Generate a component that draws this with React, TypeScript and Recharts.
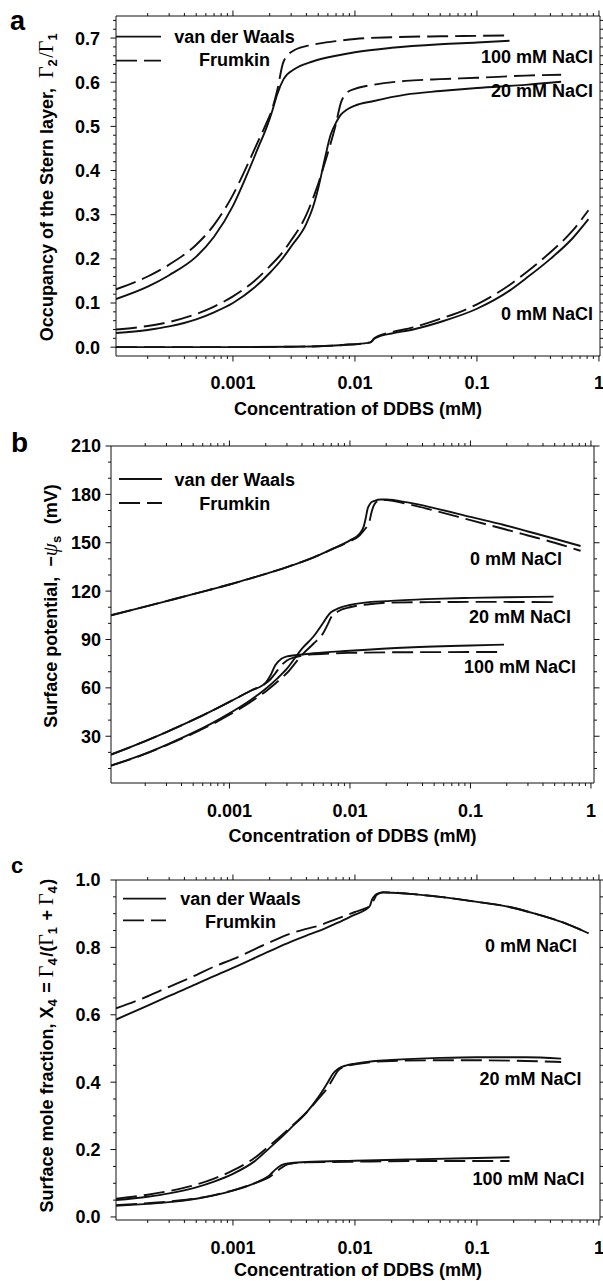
import React from 'react';
import { LineChart, Line, XAxis, YAxis, Legend } from 'recharts';

const FONT = "'Liberation Sans', Arial, Helvetica, sans-serif";
const SERIF = "'Liberation Serif', 'Times New Roman', serif";
const INK = '#111';

// ---------- shared x-axis ticks ----------
const X_MAJOR = [0.001, 0.01, 0.1, 1];
const X_MAJOR_LABELS = ['0.001', '0.01', '0.1', '1'];
const X_MINOR = [
  0.0002, 0.0003, 0.0004, 0.0005, 0.0006, 0.0007, 0.0008, 0.0009,
  0.002, 0.003, 0.004, 0.005, 0.006, 0.007, 0.008, 0.009,
  0.02, 0.03, 0.04, 0.05, 0.06, 0.07, 0.08, 0.09,
  0.2, 0.3, 0.4, 0.5, 0.6, 0.7, 0.8, 0.9,
];
const SERIES_NAMES = ['van der Waals', 'Frumkin'];
const SALT_LABELS = ['0 mM NaCl', '20 mM NaCl', '100 mM NaCl'];
const X_TITLE = 'Concentration of DDBS (mM)';

// ---------- panel a : occupancy of the Stern layer ----------
const A_Y_MAJOR = [0, 0.1, 0.2, 0.3, 0.4, 0.5, 0.6, 0.7];
const A_Y_LABELS = ['0.0', '0.1', '0.2', '0.3', '0.4', '0.5', '0.6', '0.7'];
const A_Y_MINOR = [0.02, 0.04, 0.06, 0.08, 0.12, 0.14, 0.16, 0.18, 0.22, 0.24, 0.26, 0.28, 0.32, 0.34, 0.36, 0.38,
  0.42, 0.44, 0.46, 0.48, 0.52, 0.54, 0.56, 0.58, 0.62, 0.64, 0.66, 0.68, 0.72, 0.74];

const A0_X = [0.00011, 0.001, 0.003, 0.005, 0.008, 0.0134, 0.0144, 0.016, 0.02, 0.03, 0.05, 0.1, 0.185, 0.25, 0.4, 0.6, 0.82];
const A0_VDW = [0, 0, 0.001, 0.002, 0.005, 0.011, 0.019, 0.025, 0.031, 0.04, 0.057, 0.087, 0.128, 0.155, 0.2, 0.245, 0.29];
const A0_FRU = [0, 0, 0.001, 0.002, 0.005, 0.011, 0.02, 0.027, 0.034, 0.045, 0.064, 0.097, 0.141, 0.168, 0.215, 0.262, 0.31];

const A20_X = [0.00011, 0.0002, 0.0003, 0.0005, 0.0007, 0.001, 0.0015, 0.002, 0.0025, 0.003, 0.004, 0.0045, 0.005, 0.0057,
  0.0063, 0.0069, 0.0077, 0.0085, 0.01, 0.014, 0.026, 0.05, 0.1, 0.25, 0.49];
const A20_VDW = [0.032, 0.039, 0.047, 0.063, 0.079, 0.1, 0.135, 0.168, 0.198, 0.228, 0.28, 0.315, 0.36, 0.43,
  0.48, 0.505, 0.527, 0.537, 0.547, 0.557, 0.572, 0.58, 0.587, 0.594, 0.601];
const A20_FRU = [0.04, 0.048, 0.057, 0.075, 0.092, 0.115, 0.15, 0.183, 0.212, 0.242, 0.3, 0.335, 0.37, 0.42,
  0.46, 0.5, 0.555, 0.575, 0.585, 0.594, 0.603, 0.607, 0.61, 0.615, 0.617];

const A100_X = [0.00011, 0.0002, 0.0003, 0.0005, 0.0007, 0.001, 0.0013, 0.0016, 0.0019, 0.0021, 0.0023, 0.0026, 0.0032,
  0.0045, 0.007, 0.01, 0.02, 0.05, 0.1, 0.185];
const A100_VDW = [0.109, 0.137, 0.163, 0.205, 0.25, 0.32, 0.39, 0.45, 0.5, 0.535, 0.572, 0.607, 0.63,
  0.647, 0.66, 0.668, 0.678, 0.686, 0.69, 0.694];
const A100_FRU = [0.131, 0.16, 0.187, 0.232, 0.277, 0.345, 0.41, 0.465, 0.51, 0.54, 0.58, 0.647, 0.673,
  0.685, 0.693, 0.698, 0.702, 0.704, 0.705, 0.706];

// ---------- panel b : surface potential ----------
const B_Y_MAJOR = [30, 60, 90, 120, 150, 180, 210];
const B_Y_LABELS = ['30', '60', '90', '120', '150', '180', '210'];
const B_Y_MINOR = [10, 20, 40, 50, 70, 80, 100, 110, 130, 140, 160, 170, 190, 200];

const B0_X = [0.000104, 0.0002, 0.0003, 0.0005, 0.0007, 0.001, 0.0015, 0.002, 0.003, 0.004, 0.005, 0.007, 0.01, 0.012,
  0.013, 0.0135, 0.014, 0.0145, 0.015, 0.016, 0.018, 0.02, 0.03, 0.05, 0.1, 0.19, 0.3, 0.5, 0.82];
const B0_VDW = [105, 110.4, 113.8, 118.1, 121, 124.1, 127.9, 130.7, 134.9, 138.2, 141, 145.9, 151.5, 155.5,
  160, 165, 171, 173.5, 175, 176, 176.8, 176.8, 175, 171.5, 166, 161, 157, 152.5, 148];
const B0_FRU = [105, 110.4, 113.8, 118.1, 121, 124.1, 127.9, 130.7, 134.9, 138.2, 141, 145.7, 151, 154.5,
  157.5, 159, 160.5, 163, 168, 174, 176.5, 176.5, 174, 170, 164, 158.5, 154.5, 150, 145];

const B20_X = [0.000104, 0.0002, 0.0003, 0.0005, 0.0007, 0.001, 0.0015, 0.002, 0.0025, 0.003, 0.004, 0.005, 0.006,
  0.0066, 0.007, 0.008, 0.01, 0.015, 0.02, 0.05, 0.1, 0.2, 0.49];
const B20_VDW = [11.8, 19.2, 24.7, 32.2, 37.7, 44.2, 52.5, 59.5, 65.9, 71.9, 84.4, 92, 100.4,
  105, 107, 109.3, 111.4, 113.3, 113.8, 115.2, 115.8, 116.2, 116.6];
const B20_FRU = [11.8, 19, 24.4, 31.7, 37, 43.3, 51.3, 57.8, 63.8, 69.2, 80.5, 87.5, 94,
  100, 104, 107.5, 110, 112, 112.8, 113.2, 113.3, 113.3, 113.2];

const B100_X = [0.000104, 0.0002, 0.0003, 0.0005, 0.0007, 0.001, 0.0015, 0.002, 0.0022, 0.0024, 0.0027, 0.003, 0.0035,
  0.004, 0.005, 0.01, 0.03, 0.1, 0.19];
const B100_VDW = [18.6, 27, 32.6, 40.1, 45.4, 51.3, 58.2, 63.3, 68, 74, 78, 79.5, 80.2, 80.7, 81.5, 83, 85, 86.3, 86.8];
const B100_FRU = [18.6, 27, 32.6, 40.1, 45.4, 51.3, 58.2, 62.8, 65.5, 69, 74, 77, 79, 80, 80.8, 81.7, 82.1, 82.2, 82.2];

// ---------- panel c : surface mole fraction ----------
const C_Y_MAJOR = [0, 0.2, 0.4, 0.6, 0.8, 1.0];
const C_Y_LABELS = ['0.0', '0.2', '0.4', '0.6', '0.8', '1.0'];
const C_Y_MINOR = [0.05, 0.1, 0.15, 0.25, 0.3, 0.35, 0.45, 0.5, 0.55, 0.65, 0.7, 0.75, 0.85, 0.9, 0.95];

const C0_X = [0.00011, 0.0002, 0.0003, 0.0005, 0.0007, 0.001, 0.002, 0.003, 0.004, 0.005, 0.007, 0.01, 0.012, 0.0133,
  0.0138, 0.0145, 0.015, 0.017, 0.02, 0.03, 0.05, 0.1, 0.185, 0.3, 0.5, 0.82];
const C0_VDW = [0.586, 0.627, 0.656, 0.691, 0.715, 0.739, 0.789, 0.817, 0.835, 0.848, 0.871, 0.897, 0.91, 0.924,
  0.942, 0.953, 0.958, 0.963, 0.962, 0.958, 0.95, 0.935, 0.92, 0.9, 0.875, 0.842];
const C0_FRU = [0.619, 0.655, 0.683, 0.718, 0.743, 0.765, 0.815, 0.842, 0.855, 0.864, 0.884, 0.905, 0.915, 0.924,
  0.932, 0.945, 0.955, 0.964, 0.963, 0.958, 0.95, 0.935, 0.92, 0.9, 0.875, 0.842];

const C20_X = [0.00011, 0.0002, 0.0003, 0.0005, 0.0007, 0.001, 0.0015, 0.002, 0.0025, 0.003, 0.004, 0.005, 0.006,
  0.0066, 0.0073, 0.0085, 0.01, 0.014, 0.02, 0.05, 0.1, 0.25, 0.49];
const C20_VDW = [0.05, 0.06, 0.07, 0.088, 0.105, 0.128, 0.165, 0.205, 0.237, 0.265, 0.31, 0.355, 0.4,
  0.425, 0.44, 0.45, 0.455, 0.462, 0.466, 0.472, 0.474, 0.474, 0.47];
const C20_FRU = [0.054, 0.066, 0.077, 0.096, 0.114, 0.138, 0.175, 0.212, 0.242, 0.268, 0.31, 0.35, 0.385,
  0.41, 0.435, 0.448, 0.453, 0.46, 0.463, 0.465, 0.465, 0.463, 0.46];

const C100_X = [0.00011, 0.0002, 0.0003, 0.0005, 0.0007, 0.001, 0.0015, 0.0018, 0.002, 0.0022, 0.0025, 0.0028, 0.003,
  0.004, 0.01, 0.03, 0.1, 0.185];
const C100_VDW = [0.033, 0.039, 0.044, 0.054, 0.064, 0.078, 0.1, 0.113, 0.124, 0.139, 0.154, 0.159, 0.16,
  0.163, 0.167, 0.171, 0.175, 0.177];
const C100_FRU = [0.035, 0.041, 0.046, 0.055, 0.065, 0.079, 0.1, 0.111, 0.119, 0.13, 0.146, 0.156, 0.158,
  0.162, 0.164, 0.166, 0.166, 0.166];

// ---------- helpers ----------
const zip = (xs: number[], ys: number[]) => xs.map((x, i) => ({ x, y: ys[i] }));

type AxisTicks = { majors: number[]; labels: string[]; minors: number[] };
const X_TICKS: AxisTicks = { majors: X_MAJOR, labels: X_MAJOR_LABELS, minors: X_MINOR };

function majorIndex(v: number, majors: number[]) {
  for (let i = 0; i < majors.length; i++) {
    if (Math.abs(majors[i] - v) <= 1e-9 + Math.abs(majors[i]) * 1e-6) return i;
  }
  return -1;
}

const MAJOR_LEN = 5.5;
const MINOR_LEN = 3;
const FS = 18;
const textStyle: React.CSSProperties = { fontFamily: FONT, fontWeight: 700, fontSize: FS, fill: '#000' };

function makeTick(orient: 'bottom' | 'top' | 'left' | 'right', t: AxisTicks, showLabels: boolean, gap: number) {
  return (props: any) => {
    const { x, y, payload } = props;
    const v = payload ? payload.value : NaN;
    const idx = majorIndex(v, t.majors);
    const len = idx >= 0 ? MAJOR_LEN : MINOR_LEN;
    let x2 = x;
    let y2 = y;
    if (orient === 'bottom') y2 = y + len;
    else if (orient === 'top') y2 = y - len;
    else if (orient === 'left') x2 = x - len;
    else x2 = x + len;
    let label: React.ReactNode = null;
    if (showLabels && idx >= 0) {
      if (orient === 'bottom') {
        label = (
          <text x={x} y={y + gap} textAnchor="middle" style={textStyle}>
            {t.labels[idx]}
          </text>
        );
      } else if (orient === 'left') {
        label = (
          <text x={x - gap} y={y + FS * 0.36} textAnchor="end" style={textStyle}>
            {t.labels[idx]}
          </text>
        );
      }
    }
    return (
      <g>
        <line x1={x} y1={y} x2={x2} y2={y2} stroke={INK} strokeWidth={1} />
        {label}
      </g>
    );
  };
}

const DASH = '21 7';

function LegendBox({ cfg }: { cfg: any }) {
  return (
    <svg width={210} height={60} style={{ display: 'block', overflow: 'visible' }}>
      <line x1={0} x2={cfg.len} y1={cfg.r1} y2={cfg.r1} stroke={INK} strokeWidth={1.8} />
      <text x={cfg.cx} y={cfg.b1} textAnchor="middle" style={textStyle}>{SERIES_NAMES[0]}</text>
      <line x1={0} x2={cfg.len} y1={cfg.r2} y2={cfg.r2} stroke={INK} strokeWidth={1.8} strokeDasharray={DASH} />
      <text x={cfg.cx} y={cfg.b2} textAnchor="middle" style={textStyle}>{SERIES_NAMES[1]}</text>
    </svg>
  );
}

const sub = (s: string) => (
  <>
    <tspan dy={4} fontSize={13}>{s}</tspan>
    <tspan dy={-4}>{'\u200A'}</tspan>
  </>
);
const G = <tspan fontFamily={SERIF} fontWeight={400} fontSize={20}>Γ</tspan>;

const TITLE_A = (
  <>
    <tspan>{'Occupancy of the Stern layer,  '}</tspan>
    {G}{sub('2')}<tspan fontFamily={SERIF} fontWeight={400} fontSize={20}>/Γ</tspan>{sub('1')}
  </>
);
const TITLE_B = (
  <>
    <tspan>{'Surface potential,  −'}</tspan>
    <tspan fontFamily={SERIF} fontStyle="italic" fontWeight={400} fontSize={21}>ψ</tspan>
    {sub('s')}
    <tspan>{'  (mV)'}</tspan>
  </>
);
const TITLE_C = (
  <>
    <tspan>{'Surface mole fraction, X'}</tspan>{sub('4')}
    <tspan>{' = '}</tspan>{G}{sub('4')}<tspan>{'/('}</tspan>{G}{sub('1')}<tspan>{' + '}</tspan>{G}{sub('4')}
    <tspan>{')'}</tspan>
  </>
);

const PANELS = [
  {
    key: 'a', top: 0, height: 420,
    plotLeft: 116, plotRight: 600, plotTop: 16, plotBottom: 356,
    xDomain: [0.00011, 1.02], yDomain: [-0.02, 0.75],
    yTicks: { majors: A_Y_MAJOR, labels: A_Y_LABELS, minors: A_Y_MINOR },
    yGap: 16, xGap: 33, xTitleGap: 58.5,
    yTitle: TITLE_A, yTitleX: 52.5, yTitleDy: 0.5,
    curves: [[A0_X, A0_VDW, A0_FRU], [A20_X, A20_VDW, A20_FRU], [A100_X, A100_VDW, A100_FRU]],
    legend: { left: 116, top: 24, len: 45, cx: 118.5, r1: 12.7, b1: 19.3, r2: 36.7, b2: 41.7 },
    letter: { text: 'a', x: 10, y: 30, size: 27 },
    notes: [
      { text: SALT_LABELS[2], x: 593, y: 63.3 },
      { text: SALT_LABELS[1], x: 593, y: 97.3 },
      { text: SALT_LABELS[0], x: 593, y: 319.7 },
    ],
  },
  {
    key: 'b', top: 420, height: 430,
    plotLeft: 111, plotRight: 594, plotTop: 446, plotBottom: 783,
    xDomain: [0.000104, 1.06], yDomain: [1, 210],
    yTicks: { majors: B_Y_MAJOR, labels: B_Y_LABELS, minors: B_Y_MINOR },
    yGap: 10, xGap: 33.5, xTitleGap: 59,
    yTitle: TITLE_B, yTitleX: 57, yTitleDy: -8.5,
    curves: [[B0_X, B0_VDW, B0_FRU], [B20_X, B20_VDW, B20_FRU], [B100_X, B100_VDW, B100_FRU]],
    legend: { left: 119, top: 40, len: 43, cx: 115.8, r1: 19, b1: 26, r2: 43, b2: 49.5 },
    letter: { text: 'b', x: 11, y: 31.5, size: 28 },
    notes: [
      { text: SALT_LABELS[0], x: 562, y: 144.7 },
      { text: SALT_LABELS[1], x: 571, y: 203 },
      { text: SALT_LABELS[2], x: 576, y: 253 },
    ],
  },
  {
    key: 'c', top: 850, height: 431,
    plotLeft: 116, plotRight: 600, plotTop: 880, plotBottom: 1220,
    xDomain: [0.00011, 1.02], yDomain: [-0.009, 1.0],
    yTicks: { majors: C_Y_MAJOR, labels: C_Y_LABELS, minors: C_Y_MINOR },
    yGap: 15.5, xGap: 34, xTitleGap: 55.5,
    yTitle: TITLE_C, yTitleX: 53, yTitleDy: -4.4,
    curves: [[C0_X, C0_VDW, C0_FRU], [C20_X, C20_VDW, C20_FRU], [C100_X, C100_VDW, C100_FRU]],
    legend: { left: 123, top: 30, len: 43, cx: 117.5, r1: 18.7, b1: 25, r2: 40.3, b2: 48 },
    letter: { text: 'c', x: 11, y: 23, size: 22 },
    notes: [
      { text: SALT_LABELS[0], x: 577, y: 102 },
      { text: SALT_LABELS[1], x: 581.5, y: 235.3 },
      { text: SALT_LABELS[2], x: 584.6, y: 335.3 },
    ],
  },
];

function Panel({ p }: { p: any }) {
  const W = 603;
  const topH = p.plotTop - p.top;
  const bottomH = p.top + p.height - p.plotBottom;
  const rightW = W - p.plotRight;
  const xTicksAll = [...X_MAJOR, ...X_MINOR];
  const yTicksAll = [...p.yTicks.majors, ...p.yTicks.minors];
  const axisLine = { stroke: INK, strokeWidth: 1 };

  const xTitle = (props: any) => {
    const vb = (props && props.viewBox) || props;
    if (!vb || vb.x === undefined) return null;
    return (
      <text x={vb.x + vb.width / 2} y={vb.y + p.xTitleGap} textAnchor="middle" style={textStyle}>
        {X_TITLE}
      </text>
    );
  };
  const yTitle = (props: any) => {
    const vb = (props && props.viewBox) || props;
    if (!vb || vb.y === undefined) return null;
    const cx = (vb.x || 0) + p.yTitleX;
    const cy = vb.y + vb.height / 2 + p.yTitleDy;
    return (
      <text x={cx} y={cy} transform={`rotate(-90 ${cx} ${cy})`} textAnchor="middle"
        style={{ ...textStyle, whiteSpace: 'pre' }}>
        {p.yTitle}
      </text>
    );
  };

  return (
    <div style={{ position: 'absolute', left: 0, top: p.top, width: W, height: p.height }}>
      <LineChart width={W} height={p.height} margin={{ top: 0, right: 0, bottom: 0, left: 0 }}>
        <XAxis xAxisId="b" dataKey="x" type="number" scale="log" domain={p.xDomain} allowDataOverflow
          ticks={xTicksAll} interval={0} tickLine={false} tickSize={0} tickMargin={0}
          tick={makeTick('bottom', X_TICKS, true, p.xGap)} height={bottomH} orientation="bottom"
          axisLine={axisLine} label={xTitle} />
        <XAxis xAxisId="t" dataKey="x" type="number" scale="log" domain={p.xDomain} allowDataOverflow
          ticks={xTicksAll} interval={0} tickLine={false} tickSize={0} tickMargin={0}
          tick={makeTick('top', X_TICKS, false, 0)} height={topH} orientation="top" axisLine={axisLine} />
        <YAxis yAxisId="l" type="number" domain={p.yDomain} allowDataOverflow ticks={yTicksAll} interval={0}
          tickLine={false} tickSize={0} tickMargin={0} tick={makeTick('left', p.yTicks, true, p.yGap)}
          width={p.plotLeft} orientation="left" axisLine={axisLine} label={yTitle} />
        <YAxis yAxisId="r" type="number" domain={p.yDomain} allowDataOverflow ticks={yTicksAll} interval={0}
          tickLine={false} tickSize={0} tickMargin={0} tick={makeTick('right', p.yTicks, false, 0)}
          width={rightW} orientation="right" axisLine={axisLine} />
        {p.curves.map((c: number[][], i: number) => (
          <Line key={`v${i}`} xAxisId="b" yAxisId="l" data={zip(c[0], c[1])} dataKey="y" name={`${SERIES_NAMES[0]} ${SALT_LABELS[i]}`}
            type="monotone" stroke={INK} strokeWidth={1.9} dot={false} activeDot={false} isAnimationActive={false} />
        ))}
        {p.curves.map((c: number[][], i: number) => (
          <Line key={`f${i}`} xAxisId="b" yAxisId="l" data={zip(c[0], c[2])} dataKey="y" name={`${SERIES_NAMES[1]} ${SALT_LABELS[i]}`}
            type="monotone" stroke={INK} strokeWidth={1.9} strokeDasharray={DASH} dot={false} activeDot={false}
            isAnimationActive={false} />
        ))}
        <Legend layout="horizontal" verticalAlign="middle" align="center"
          wrapperStyle={{ left: p.legend.left, top: p.legend.top, width: 210, height: 60 }}
          content={() => <LegendBox cfg={p.legend} />} />
      </LineChart>
      <svg width={W} height={p.height} style={{ position: 'absolute', left: 0, top: 0, pointerEvents: 'none' }}>
        <text x={p.letter.x} y={p.letter.y} style={{ ...textStyle, fontSize: p.letter.size }}>{p.letter.text}</text>
        {p.notes.map((n: any) => (
          <text key={n.text} x={n.x} y={n.y} textAnchor="end" style={textStyle}>{n.text}</text>
        ))}
      </svg>
    </div>
  );
}

export default function App() {
  return (
    <div style={{ position: 'absolute', left: 0, top: 0, width: 603, height: 1281, background: '#fff' }}>
      {PANELS.map((p) => (
        <Panel key={p.key} p={p} />
      ))}
    </div>
  );
}
